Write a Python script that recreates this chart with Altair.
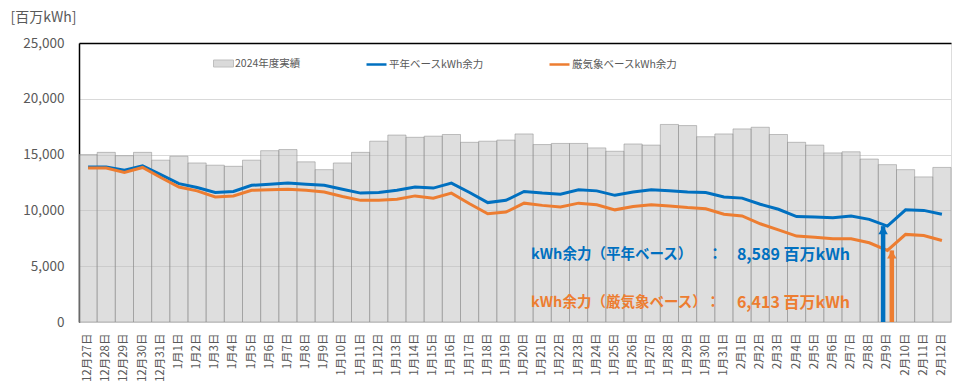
import altair as alt
import pandas as pd

FONT = "Noto Sans CJK JP"

dates = ([f"12月{d}日" for d in range(27, 32)]
         + [f"1月{d}日" for d in range(1, 32)]
         + [f"2月{d}日" for d in range(1, 13)])

actual_2024 = [15000, 15200, 14900, 15200, 14500, 14850, 14250, 14050, 13950, 14500,
               15350, 15450, 14350, 13650, 14250, 15200, 16200, 16750, 16550, 16650,
               16800, 16100, 16200, 16300, 16850, 15900, 16000, 16000, 15600, 15300,
               15950, 15850, 17700, 17600, 16600, 16850, 17300, 17450, 16800, 16100,
               15850, 15150, 15250, 14600, 14100, 13650, 13000, 13850]

normal_base = [13900, 13900, 13600, 14000, 13200, 12400, 12050, 11600, 11700, 12250,
               12350, 12450, 12350, 12250, 11900, 11550, 11600, 11800, 12100, 12000,
               12450, 11600, 10700, 10900, 11700, 11550, 11450, 11850, 11750, 11350,
               11650, 11850, 11750, 11650, 11600, 11200, 11100, 10550, 10100, 9450,
               9400, 9350, 9500, 9200, 8589, 10050, 10000, 9650]

severe_base = [13800, 13800, 13400, 13850, 12950, 12100, 11750, 11200, 11300, 11800,
               11850, 11900, 11800, 11650, 11250, 10900, 10900, 11000, 11300, 11100,
               11550, 10600, 9700, 9850, 10650, 10450, 10300, 10650, 10500, 10050,
               10350, 10500, 10400, 10250, 10150, 9650, 9500, 8800, 8250, 7700,
               7600, 7450, 7450, 7100, 6413, 7850, 7750, 7300]

bar_name = "2024年度実績"
line_names = ["平年ベースkWh余力", "厳気象ベースkWh余力"]
line_colors = ["#0070c0", "#ed7d31"]

arrow_date = "2月9日"
arrow_values = [8589, 6413]

label_date = "1月20日"
value_date = "1月31日"
ann_labels = ["kWh余力（平年ベース）", "kWh余力（厳気象ベース）"]
ann_colons = ["：", "："]
ann_values = ["8,589 百万kWh", "6,413 百万kWh"]
ann_y = [6000, 1700]
colon_dx = [-9, -11]

bars_df = pd.DataFrame({"date": dates, "value": actual_2024, "kind": bar_name})
lines_df = pd.concat([
    pd.DataFrame({"date": dates, "value": normal_base, "series": line_names[0], "o": range(len(dates))}),
    pd.DataFrame({"date": dates, "value": severe_base, "series": line_names[1], "o": range(len(dates))}),
])

x_scale = alt.Scale(domain=dates, paddingInner=0, paddingOuter=0)
y_scale = alt.Scale(domain=[0, 25000], nice=False)

AX_X = alt.Axis(labelAngle=-90, labelAlign="right", labelBaseline="middle",
                labelPadding=11, labelFontSize=11.5, labelColor="#595959",
                labelFont=FONT, domain=False, ticks=False, grid=False)
AX_Y = alt.Axis(values=[0, 5000, 10000, 15000, 20000, 25000],
                labelExpr="format(datum.value, ',')",
                labelFontSize=13.5, labelColor="#595959", labelFont=FONT,
                labelPadding=15, domain=True, domainColor="#000000", domainWidth=1.5,
                ticks=False,
                gridColor={"condition": {"test": "datum.value === 25000", "value": "#000000"},
                           "value": "#d9d9d9"},
                gridWidth={"condition": {"test": "datum.value === 25000", "value": 1.5},
                           "value": 1},
                titleAngle=0, titleX=-69, titleY=-33, titleAlign="left",
                titleBaseline="top", titleFontSize=14, titleFontWeight="normal",
                titleColor="#595959", titleFont=FONT)
Y_TITLE = "[百万kWh]"


def xq(field):
    return alt.X(f"{field}:N", scale=x_scale, axis=AX_X, title=None)


def yq(field):
    return alt.Y(f"{field}:Q", scale=y_scale, axis=AX_Y, title=Y_TITLE)


bars = alt.Chart(bars_df).mark_bar(fillOpacity=0.5, stroke="#8a8a8a", strokeOpacity=0.5,
                                   strokeWidth=1).encode(
    x=xq("date"), y=yq("value"),
    fill=alt.Fill("kind:N", scale=alt.Scale(domain=[bar_name], range=["#bdbdbd"]),
                  legend=alt.Legend(orient="none", legendX=134, legendY=10, title=None,
                                    symbolType="M-1,-0.35H1V0.35H-1Z", symbolSize=400,
                                    symbolOpacity=0.55,
                                    symbolStrokeColor="#8c8c8c", symbolStrokeWidth=1,
                                    labelFontSize=10.5, labelColor="#595959", labelFont=FONT,
                                    labelOffset=1, padding=0))
)

lines = alt.Chart(lines_df).mark_line(strokeWidth=3).encode(
    x=xq("date"),
    y=yq("value"),
    order="o:Q",
    stroke=alt.Stroke("series:N", scale=alt.Scale(domain=line_names, range=line_colors),
                      legend=alt.Legend(orient="none", legendX=286, legendY=10, title=None,
                                        direction="horizontal", symbolType="stroke",
                                        symbolSize=400, symbolStrokeWidth=2.5,
                                        labelFontSize=10.5, labelColor="#595959", labelFont=FONT,
                                        labelOffset=1, columnPadding=60, padding=0))
)

layers = [bars, lines]

offsets = [-4.3, 4.4]
for val, col, off in zip(arrow_values, line_colors, offsets):
    adf = pd.DataFrame({"date": [arrow_date], "value": [val], "base": [0]})
    shaft = alt.Chart(adf).mark_rule(color=col, strokeWidth=4.5, xOffset=off, yOffset=5,
                                     clip=True).encode(
        x=xq("date"), y=yq("base"), y2="value:Q")
    head = alt.Chart(adf).mark_point(shape="triangle-up", filled=True, size=90, opacity=1,
                                     color=col, xOffset=off, yOffset=4).encode(
        x=xq("date"), y=yq("value"))
    layers += [shaft, head]

for lab, colon, val, yv, col, cdx in zip(ann_labels, ann_colons, ann_values, ann_y,
                                         line_colors, colon_dx):
    tdf = pd.DataFrame({"d1": [label_date], "d2": [value_date], "y": [yv],
                        "lab": [lab], "colon": [colon], "val": [val]})
    common = dict(color=col, fontWeight="bold", font=FONT, baseline="middle")
    t1 = alt.Chart(tdf).mark_text(align="left", dx=7, fontSize=14.5, **common).encode(
        x=xq("d1"), y=yq("y"), text="lab:N")
    t2 = alt.Chart(tdf).mark_text(align="center", dx=cdx, fontSize=14.5, **common).encode(
        x=xq("d2"), y=yq("y"), text="colon:N")
    t3 = alt.Chart(tdf).mark_text(align="left", dx=13, fontSize=16, **common).encode(
        x=xq("d2"), y=yq("y"), text="val:N")
    layers += [t1, t2, t3]

chart = alt.layer(*layers).resolve_scale(fill="independent", stroke="independent").properties(
    width=944, height=376,
    autosize=alt.AutoSizeParams(type="fit", contains="padding"),
    padding={"left": 2, "top": 2, "right": 0, "bottom": 2},
).configure_view(stroke="#000000", strokeWidth=1.5).configure(font=FONT)

chart.save("out.html", embed_options={"renderer": "svg", "actions": False})
